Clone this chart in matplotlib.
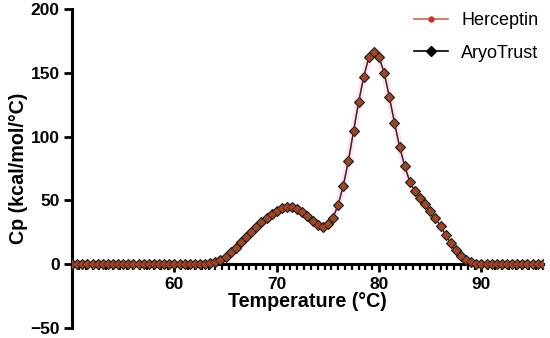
import numpy as np
import matplotlib
matplotlib.use("Agg")
import matplotlib.pyplot as plt
from matplotlib.ticker import MultipleLocator

plt.rcParams['font.family'] = ['Liberation Sans', 'DejaVu Sans']

temperature = np.arange(50.0, 96.01, 0.5)
cp_peak_region = {
    63.0: 0.3, 63.5: 0.8, 64.0: 1.8, 64.5: 3.5, 65.0: 6.0, 65.5: 9.5,
    66.0: 13.0, 66.5: 17.0, 67.0: 21.0, 67.5: 25.0, 68.0: 29.0, 68.5: 33.0,
    69.0: 36.5, 69.5: 39.5, 70.0: 42.0, 70.5: 44.0, 71.0: 45.0, 71.5: 44.8,
    72.0: 43.5, 72.5: 41.0, 73.0: 37.5, 73.5: 34.0, 74.0: 31.0, 74.5: 29.5,
    75.0: 31.5, 75.5: 36.5, 76.0: 46.5, 76.5: 61.5, 77.0: 81.0, 77.5: 104.0,
    78.0: 127.0, 78.5: 147.0, 79.0: 162.0, 79.5: 166.5, 80.0: 162.0,
    80.5: 150.0, 81.0: 131.0, 81.5: 111.0, 82.0: 92.0, 82.5: 77.0,
    83.0: 64.5, 83.5: 57.0, 84.0: 52.0, 84.5: 47.0, 85.0: 41.5, 85.5: 36.0,
    86.0: 30.0, 86.5: 23.0, 87.0: 16.5, 87.5: 11.0, 88.0: 6.5, 88.5: 3.5,
    89.0: 1.5, 89.5: 0.5,
}
herceptin = [cp_peak_region.get(t, 0.0) for t in temperature]
aryotrust = [cp_peak_region.get(t, 0.0) for t in temperature]

x_ticks = [60, 70, 80, 90]
y_ticks = [-50, 0, 50, 100, 150, 200]

fig = plt.figure(figsize=(5.5, 3.38), dpi=100)
ax = fig.add_axes([0.131, 0.0296, 0.856, 0.944])

# faint halo
ax.plot(temperature, herceptin, color='#ffe3f5', lw=5, zorder=1, solid_capstyle='round')
ax.plot(temperature, aryotrust, color='black', lw=1.0, marker='D', ms=5.5,
        mfc='#84521f', mec='#1a1a1a', mew=0.8, zorder=3)
ax.plot(temperature, herceptin, color='#a8602e', lw=1.0, marker='o', ms=3.2,
        mfc='#c8302a', mec='#c8302a', alpha=0.35, zorder=4)
# legend handles
h1, = ax.plot([], [], color='#c0704a', lw=1.2, marker='o', ms=3.5, mfc='#c8302a', mec='#c8302a', label='Herceptin')
h2, = ax.plot([], [], color='black', lw=1.2, marker='D', ms=5, mfc='black', mec='black', label='AryoTrust')

ax.set_xlim(50, 96)
ax.set_ylim(-50, 200)
ax.set_xticks(x_ticks)
ax.set_yticks(y_ticks)
ax.set_yticklabels(['\u221250', '0', '50', '100', '150', '200'])
ax.xaxis.set_minor_locator(MultipleLocator(10 / 15))

ax.spines['top'].set_visible(False)
ax.spines['right'].set_visible(False)
ax.spines['bottom'].set_position(('data', 0))
ax.spines['left'].set_linewidth(2.2)
ax.spines['bottom'].set_linewidth(2.2)
ax.tick_params(axis='both', which='major', length=6, width=2, labelsize=12.5, pad=3)
ax.tick_params(axis='x', which='minor', length=4, width=1.6)
for lab in ax.get_xticklabels() + ax.get_yticklabels():
    lab.set_fontweight('bold')

ax.set_xlabel('Temperature (°C)', fontsize=14.2, fontweight='bold', labelpad=0)
ax.set_ylabel('Cp (kcal/mol/°C)', fontsize=14.2, fontweight='bold', labelpad=1.5)

ax.legend(handles=[h1, h2], loc='upper right', bbox_to_anchor=(1.025, 1.04), frameon=False,
          fontsize=13, handlelength=1.9, handletextpad=0.7, labelspacing=0.85)

fig.savefig('out.png', dpi=100)
